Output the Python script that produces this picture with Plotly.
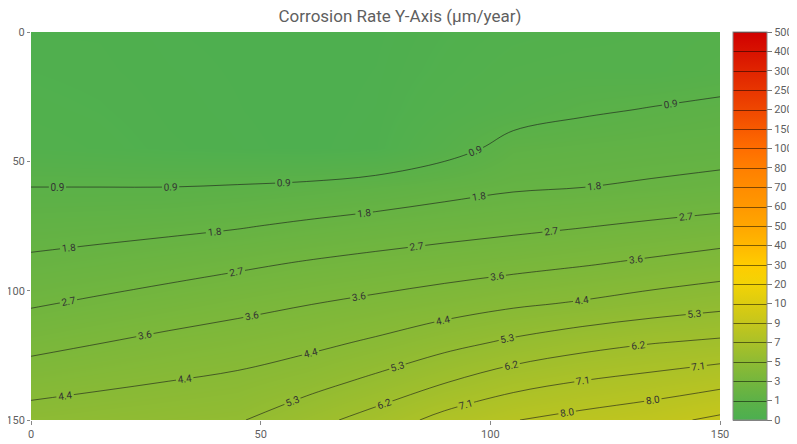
import numpy as np
import plotly.graph_objects as go

# grid positions (x across, y down)
x_vals = [0, 15, 30, 45, 60, 75, 90, 105, 120, 135, 150]
y_vals = [0, 15, 30, 45, 60, 75, 90, 105, 120, 135, 150]

# corrosion rate (um/year), one row per y value
z_rows = [
    [0.20, 0.20, 0.15, 0.13, 0.10, 0.13, 0.25, 0.35, 0.40, 0.45, 0.50],
    [0.25, 0.22, 0.17, 0.14, 0.10, 0.15, 0.30, 0.45, 0.50, 0.47, 0.60],
    [0.30, 0.26, 0.19, 0.15, 0.11, 0.17, 0.40, 0.59, 0.79, 0.92, 1.03],
    [0.38, 0.31, 0.22, 0.17, 0.12, 0.20, 0.60, 1.14, 1.28, 1.38, 1.46],
    [0.89, 0.89, 0.89, 0.94, 1.02, 1.19, 1.46, 1.68, 1.77, 1.89, 2.03],
    [1.41, 1.48, 1.57, 1.71, 1.92, 2.12, 2.30, 2.46, 2.62, 2.80, 2.98],
    [1.95, 2.11, 2.31, 2.53, 2.76, 2.95, 3.13, 3.31, 3.51, 3.73, 3.97],
    [2.58, 2.81, 3.05, 3.29, 3.52, 3.75, 4.01, 4.30, 4.53, 4.82, 5.07],
    [3.28, 3.53, 3.77, 3.97, 4.21, 4.56, 5.03, 5.48, 5.88, 6.17, 6.36],
    [4.04, 4.25, 4.44, 4.62, 4.98, 5.52, 6.15, 6.75, 7.12, 7.39, 7.71],
    [4.85, 5.00, 5.13, 5.25, 5.90, 6.57, 7.40, 7.96, 8.29, 8.61, 9.06],
]

# colour scale steps (equally spaced on the colour bar)
scale_vals = [0, 1, 3, 5, 7, 9, 10, 20, 30, 40, 50, 60, 70, 80, 100,
              150, 200, 250, 300, 400, 500]
scale_colors = ['#4caf50', '#5db147', '#75b63d', '#8fbb33', '#aac128',
                '#c5c61c', '#dccc10', '#f2d306', '#ffcc00', '#ffb800',
                '#ffa600', '#ff9800', '#ff8c00', '#ff7f00', '#ff6d00',
                '#f75a00', '#ef4700', '#e83500', '#e02400', '#d81200',
                '#d00000']

# contour line levels
line_start = 0.888
line_size = 0.888
line_end = 95

z = np.array(z_rows)
idx = np.arange(len(scale_vals))
zi = np.interp(z, scale_vals, idx)
n = len(scale_vals) - 1
colorscale = [[i / n, c] for i, c in enumerate(scale_colors)]

grey = '#5f5f5f'
font = 'Roboto'

# page body has an 8px margin, so the figure is a little smaller than the window
W, H = 789, 436

fill = go.Contour(
    x=x_vals, y=y_vals, z=zi,
    colorscale=colorscale, zmin=0, zmax=n, zauto=False,
    contours=dict(coloring='heatmap', showlines=False, start=0, end=n, size=1),
    line=dict(width=0), showscale=False, hoverinfo='skip'
)

lines = go.Contour(
    x=x_vals, y=y_vals, z=z,
    contours=dict(coloring='none', start=line_start, end=line_end, size=line_size,
                  showlabels=True, labelformat='.1f',
                  labelfont=dict(family=font, size=10, color='#333')),
    line=dict(color='#1a1a1a', width=0.6), showscale=False
)

# colour bar only (drawn off-screen on hidden axes)
bar = go.Contour(
    x=x_vals, y=y_vals, z=zi, xaxis='x2', yaxis='y2',
    colorscale=colorscale, zmin=0, zmax=n, zauto=False,
    contours=dict(coloring='heatmap', start=0, end=n, size=1),
    line=dict(color='rgba(0,0,0,0.5)', width=1),
    hoverinfo='skip',
    colorbar=dict(
        x=1.019, xanchor='left', xpad=0, y=0.5, yanchor='middle', ypad=0,
        len=1, thickness=34, outlinewidth=1, outlinecolor='#888',
        tickmode='array', tickvals=list(idx), ticktext=[str(v) for v in scale_vals],
        ticks='outside', ticklen=5, tickcolor='#777',
        tickfont=dict(family=font, size=11, color=grey)
    )
)

layout = go.Layout(
    width=W, height=H,
    margin=dict(l=23, r=77, t=24, b=24, autoexpand=False),
    paper_bgcolor='white', plot_bgcolor='white',
    font=dict(family=font, size=11, color=grey),
    title=dict(text='Corrosion Rate Y-Axis (μm/year)', x=392 / W, xref='container',
               y=1 - 8.5 / H, yref='container', yanchor='middle', xanchor='center',
               font=dict(family=font, size=17, color=grey)),
    xaxis=dict(range=[0, 150], tickvals=[0, 50, 100, 150], ticks='outside',
               ticklen=4, tickcolor='#888', showgrid=False, zeroline=False,
               showline=False, automargin=False, tickfont=dict(size=11, color=grey)),
    yaxis=dict(range=[150, 0], tickvals=[0, 50, 100, 150], ticks='outside',
               ticklen=3, tickcolor='#888', showgrid=False, zeroline=False,
               showline=False, automargin=False, tickfont=dict(size=11, color=grey)),
    xaxis2=dict(overlaying='x', anchor='y', visible=False, range=[1000, 1001]),
    yaxis2=dict(overlaying='y', anchor='x', visible=False, range=[1000, 1001]),
    showlegend=False
)

fig = go.Figure(data=[fill, lines, bar], layout=layout)
fig.write_html("out.html")
